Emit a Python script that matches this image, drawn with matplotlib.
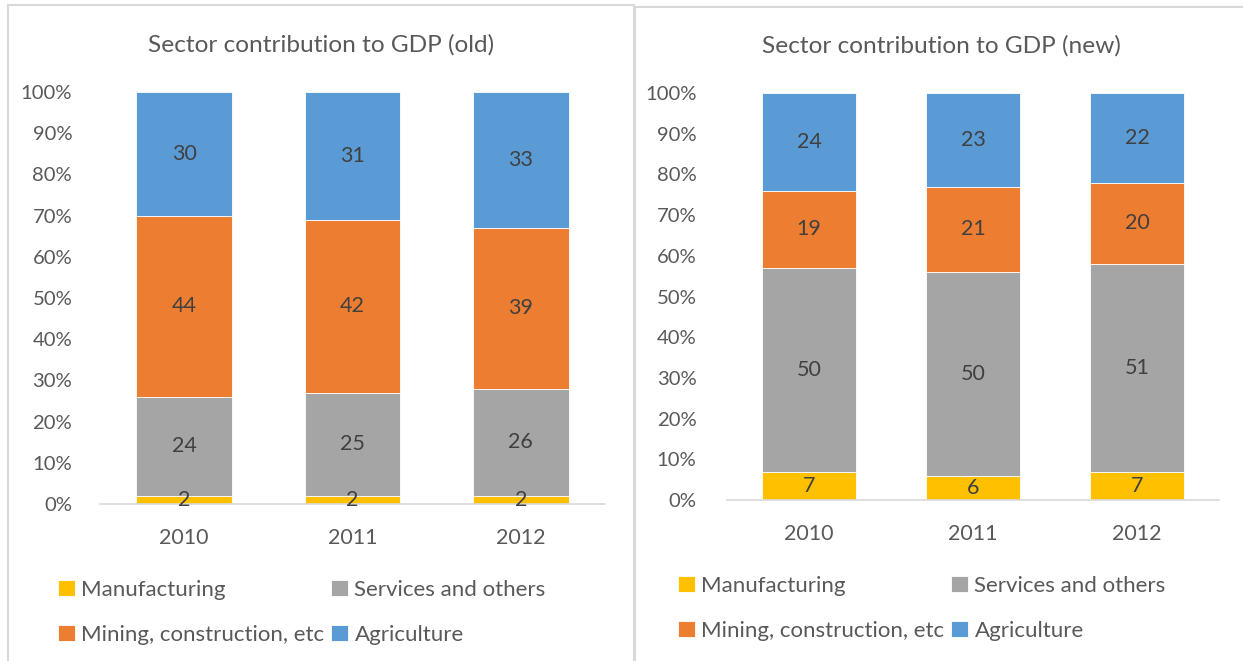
import matplotlib.pyplot as plt
import numpy as np
from matplotlib.patches import Rectangle
from matplotlib.ticker import PercentFormatter

years = ["2010", "2011", "2012"]
sectors = ["Manufacturing", "Services and others", "Mining, construction, etc", "Agriculture"]
colors = ["#FFC000", "#A5A5A5", "#ED7D31", "#5B9BD5"]

old_manufacturing = [2, 2, 2]
old_services = [24, 25, 26]
old_mining = [44, 42, 39]
old_agriculture = [30, 31, 33]

new_manufacturing = [7, 6, 7]
new_services = [50, 50, 51]
new_mining = [19, 21, 20]
new_agriculture = [24, 23, 22]

W, H = 1243, 661
txt = "#595959"
plt.rcParams['font.family'] = ['Lato', 'DejaVu Sans']


def px(x0, y0, x1, y1):
    return [x0 / W, 1 - y1 / H, (x1 - x0) / W, (y1 - y0) / H]


fig = plt.figure(figsize=(W / 100, H / 100), dpi=100)

# chart frames
for x0, y0, x1, y1 in [(8, 5, 634, 700), (635, 7, 1260, 700)]:
    fig.add_artist(Rectangle((x0 / W, 1 - y1 / H), (x1 - x0) / W, (y1 - y0) / H,
                             transform=fig.transFigure, fill=False,
                             ec="#D9D9D9", lw=1.5))


def stacked(rect, series, title, title_xy, legend_xy, ypad):
    ax = fig.add_axes(px(*rect))
    x = np.arange(len(years))
    bottom = np.zeros(len(years))
    handles = []
    for vals, c, name in zip(series, colors, sectors):
        v = np.array(vals) / 100
        b = ax.bar(x, v, 0.57, bottom=bottom, color=c, ec="white", lw=0.6, label=name)
        for xi, vi, bi in zip(x, v, bottom):
            ax.text(xi, bi + vi / 2, f"{vi * 100:.0f}", ha="center", va="center",
                    fontsize=15.5, color="#404040")
        bottom += v
        handles.append(b)
    ax.set_xlim(-0.5, 2.5)
    ax.set_ylim(0, 1)
    ax.set_xticks(x, years)
    ax.set_yticks(np.arange(0, 1.01, 0.1))
    ax.yaxis.set_major_formatter(PercentFormatter(1, decimals=0))
    ax.tick_params(length=0, labelsize=15.5, labelcolor=txt)
    ax.tick_params(axis="y", pad=ypad, labelsize=14.6)
    ax.tick_params(axis="x", pad=17)
    for s in ["top", "right", "left"]:
        ax.spines[s].set_visible(False)
    ax.spines["bottom"].set_color("#D9D9D9")
    ax.spines["bottom"].set_linewidth(1.2)
    fig.text(title_xy[0] / W, 1 - title_xy[1] / H, title, ha="center", va="center",
             fontsize=17.6, color=txt)
    order = [handles[0], handles[2], handles[1], handles[3]]
    fig.legend(order, [h.get_label() for h in order], ncol=2, frameon=False,
               loc="upper left", bbox_to_anchor=(legend_xy[0] / W, 1 - legend_xy[1] / H),
               fontsize=16, labelcolor=txt, handlelength=0.75, handleheight=0.75,
               handletextpad=0.3, columnspacing=0.3, labelspacing=1.12,
               borderpad=0, borderaxespad=0)


stacked((100, 92, 605, 504),
        [old_manufacturing, old_services, old_mining, old_agriculture],
        "Sector contribution to GDP (old)", (321, 45), (58, 580), 20)
stacked((727, 93, 1219, 500),
        [new_manufacturing, new_services, new_mining, new_agriculture],
        "Sector contribution to GDP (new)", (941, 46), (678, 576), 22)

plt.savefig("out.png", dpi=100)
